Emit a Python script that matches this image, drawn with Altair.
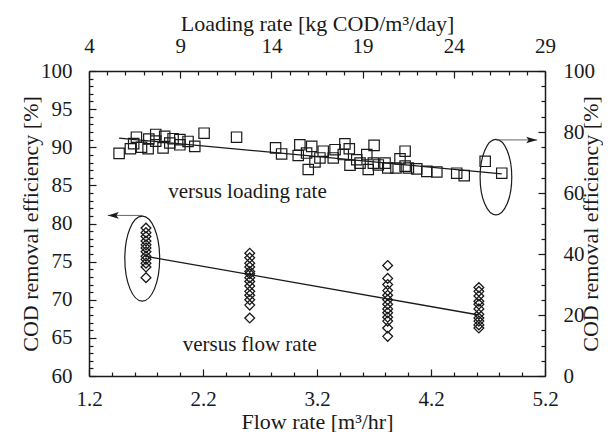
import altair as alt
import pandas as pd

# ---------------- data ----------------
# COD removal efficiency versus flow rate (diamonds, left / bottom axes)
flow_levels = [1.70, 2.61, 3.82, 4.62]
eff_flow_1 = [79.4, 78.8, 78.3, 77.7, 77.2, 76.8, 76.3, 75.7, 75.3, 74.8, 74.3, 72.9]
eff_flow_2 = [76.1, 75.5, 74.8, 74.3, 73.7, 73.4, 72.9, 72.4, 71.8, 71.1, 70.6, 70.0, 69.3, 67.6]
eff_flow_3 = [74.5, 72.8, 72.0, 71.2, 70.6, 70.0, 69.4, 68.8, 68.3, 67.7, 67.2, 66.3, 65.2]
eff_flow_4 = [71.6, 71.1, 70.5, 69.8, 69.4, 68.8, 68.1, 67.6, 67.2, 66.7, 66.3]
flow_trend_x = [1.70, 4.62]
flow_trend_y = [75.7, 68.0]

# COD removal efficiency versus loading rate (squares, right / top axes)
load_x = [5.65, 6.27, 6.60, 6.45, 6.88, 7.28, 7.24, 7.66, 7.66, 8.06,
          8.15, 8.43, 8.61, 8.98, 8.98, 9.43, 9.80, 10.31, 12.09, 14.23,
          14.56, 15.56, 15.47, 16.21, 15.93, 16.02, 16.39, 16.84, 16.66, 17.49,
          17.39, 18.03, 18.27, 17.94, 18.31, 18.68, 18.86, 19.23, 19.31, 19.63,
          19.59, 19.86, 20.23, 20.38, 20.83, 21.05, 21.33, 21.33, 21.51, 21.97,
          22.52, 23.07, 24.16, 24.57, 25.72, 26.63]
load_eff = [73.0, 74.5, 78.3, 76.2, 75.0, 77.7, 74.5, 79.2, 77.0, 74.8,
            78.6, 76.4, 77.8, 77.5, 75.8, 76.9, 75.3, 79.6, 78.3, 74.8,
            72.8, 75.8, 72.3, 75.3, 73.1, 67.7, 70.2, 73.7, 71.5, 74.2,
            71.5, 76.1, 74.5, 72.6, 69.1, 70.9, 69.8, 72.6, 67.7, 75.6,
            69.8, 69.2, 69.8, 68.2, 68.2, 71.2, 73.7, 68.8, 68.2, 67.9,
            67.1, 66.9, 66.5, 65.7, 70.4, 66.5]
load_trend_x = [5.65, 26.63]
load_trend_y = [78.0, 66.3]

# annotations (ellipse centres, arrows, captions)
flow_ellipse = (1.667, 75.4)
flow_arrow_x = [1.67, 1.365]
flow_arrow_y = 81.06
load_ellipse = (26.31, 65.2)
load_arrow_x = [26.31, 28.57]
load_arrow_y = 77.4
caption_x = [2.61, 2.59]
caption_y = [64.1, 84.1]
caption_text = ["versus flow rate", "versus loading rate"]

# axes
flow_ticks = [round(1.2 + 0.2 * i, 1) for i in range(21)]
left_ticks = list(range(60, 101))
load_ticks = list(range(4, 30))
right_ticks = list(range(0, 101, 5))

# ---------------- styling ----------------
INK = "#1a1a1a"
FONT = "Liberation Serif"
LAB = 21
TIT = 22
W, H = 456, 305


def axis(orient, values, major_test, title, fmt, tx, ty, pad, extra=None):
    kw = dict(
        orient=orient, values=values, format=fmt,
        labelExpr=f"({major_test}) ? datum.label : ''",
        tickSize=alt.ExprRef(expr=f"({major_test}) ? -7 : -4"),
        tickColor=INK, tickWidth=1.2, domainColor=INK, domainWidth=1.5,
        grid=False, labelFont=FONT, labelFontSize=LAB, labelColor=INK,
        labelOverlap=False, labelFlush=False, labelPadding=pad,
        title=title, titleFont=FONT, titleFontSize=TIT, titleFontWeight="normal",
        titleColor=INK, titleX=tx, titleY=ty, titleAlign="center",
        titleBaseline="alphabetic",
    )
    if extra:
        kw.update(extra)
    return alt.Axis(**kw)


# ---- layer A : flow rate (bottom / left) ----
xa = alt.X("x:Q", scale=alt.Scale(domain=[1.2, 5.2], nice=False, zero=False),
           axis=axis("bottom", flow_ticks, "round(datum.value*5) % 5 == 1",
                     "Flow rate [m³/hr]", ".1f", W / 2, 52, 19))
ya = alt.Y("y:Q", scale=alt.Scale(domain=[60, 100], nice=False, zero=False),
           axis=axis("left", left_ticks, "datum.value % 5 == 0",
                     "COD removal efficiency [%]", "d", -52, H / 2, 24,
                     {"titleAngle": 270}))

rows = []
for fx, vals in zip(flow_levels, [eff_flow_1, eff_flow_2, eff_flow_3, eff_flow_4]):
    rows += [{"x": fx, "y": v} for v in vals]
df_flow = pd.DataFrame(rows)
df_flow_trend = pd.DataFrame({"x": flow_trend_x, "y": flow_trend_y})
df_flow_ell = pd.DataFrame({"x": [flow_ellipse[0]], "y": [flow_ellipse[1]]})
df_flow_arrow = pd.DataFrame({"x": [flow_arrow_x[0]], "x2": [flow_arrow_x[1]], "y": [flow_arrow_y]})
df_flow_head = pd.DataFrame({"x": [flow_arrow_x[1]], "y": [flow_arrow_y]})
df_caps = pd.DataFrame({"x": caption_x, "y": caption_y, "t": caption_text})


def ellipse_path(a):
    k = 0.5523
    return (f"M 0 -1 C {k*a:.4f} -1 {a:.4f} {-k:.4f} {a:.4f} 0 "
            f"C {a:.4f} {k:.4f} {k*a:.4f} 1 0 1 "
            f"C {-k*a:.4f} 1 {-a:.4f} {k:.4f} {-a:.4f} 0 "
            f"C {-a:.4f} {-k:.4f} {-k*a:.4f} -1 0 -1 Z")


head_left = "M 0 0 L 2 -0.6 L 1.55 0 L 2 0.6 Z"
head_right = "M 0 0 L -2 -0.6 L -1.55 0 L -2 0.6 Z"

layerA = alt.layer(
    alt.Chart(df_flow).mark_point(shape="diamond", filled=False, size=95,
                                  color=INK, strokeWidth=1.3, opacity=1).encode(x=xa, y=ya),
    alt.Chart(df_flow_trend).mark_line(color=INK, strokeWidth=1.3).encode(x=xa, y=ya),
    alt.Chart(df_flow_ell).mark_point(shape=ellipse_path(0.41), size=7225, filled=False,
                                      color=INK, strokeWidth=1.2, opacity=1).encode(x=xa, y=ya),
    alt.Chart(df_flow_arrow).mark_rule(color="#555", strokeWidth=0.9).encode(x=xa, x2="x2:Q", y=ya),
    alt.Chart(df_flow_head).mark_point(shape=head_left, size=121, filled=True,
                                       color=INK, opacity=1).encode(x=xa, y=ya),
    alt.Chart(df_caps).mark_text(font=FONT, fontSize=21, color=INK, align="center",
                                 baseline="middle").encode(x=xa, y=ya, text="t:N"),
)

# ---- layer B : loading rate (top / right) ----
xb = alt.X("x:Q", scale=alt.Scale(domain=[4, 29], nice=False, zero=False),
           axis=axis("top", load_ticks, "datum.value % 5 == 4",
                     "Loading rate [kg COD/m³/day]", "d", W / 2, -41, 22))
yb = alt.Y("y:Q", scale=alt.Scale(domain=[0, 100], nice=False, zero=False),
           axis=axis("right", right_ticks, "datum.value % 20 == 0",
                     "COD removal efficiency [%]", "d", 52, H / 2, 25,
                     {"titleAngle": 270}))

df_load = pd.DataFrame({"x": load_x, "y": load_eff})
df_load_trend = pd.DataFrame({"x": load_trend_x, "y": load_trend_y})
df_load_ell = pd.DataFrame({"x": [load_ellipse[0]], "y": [load_ellipse[1]]})
df_load_arrow = pd.DataFrame({"x": [load_arrow_x[0]], "x2": [load_arrow_x[1]], "y": [load_arrow_y]})
df_load_head = pd.DataFrame({"x": [load_arrow_x[1]], "y": [load_arrow_y]})

layerB = alt.layer(
    alt.Chart(df_load).mark_point(shape="square", filled=False, size=108,
                                  color=INK, strokeWidth=1.2, opacity=1).encode(x=xb, y=yb),
    alt.Chart(df_load_trend).mark_line(color=INK, strokeWidth=1.3).encode(x=xb, y=yb),
    alt.Chart(df_load_ell).mark_point(shape=ellipse_path(0.42), size=5685, filled=False,
                                      color=INK, strokeWidth=1.2, opacity=1).encode(x=xb, y=yb),
    alt.Chart(df_load_arrow).mark_rule(color="#555", strokeWidth=0.9).encode(x=xb, x2="x2:Q", y=yb),
    alt.Chart(df_load_head).mark_point(shape=head_right, size=121, filled=True,
                                       color=INK, opacity=1).encode(x=xb, y=yb),
)

chart = alt.layer(layerA, layerB).resolve_scale(
    x="independent", y="independent"
).properties(
    width=W, height=H,
    autosize=alt.AutoSizeParams(type="none"),
    padding={"left": 81, "top": 63, "right": 58, "bottom": 56},
).configure(
    font=FONT
).configure_axis(
    labelFont=FONT, titleFont=FONT
).configure_text(
    font=FONT
).configure_view(stroke=None)

chart.save("out.html", embed_options={"renderer": "svg", "actions": False})
